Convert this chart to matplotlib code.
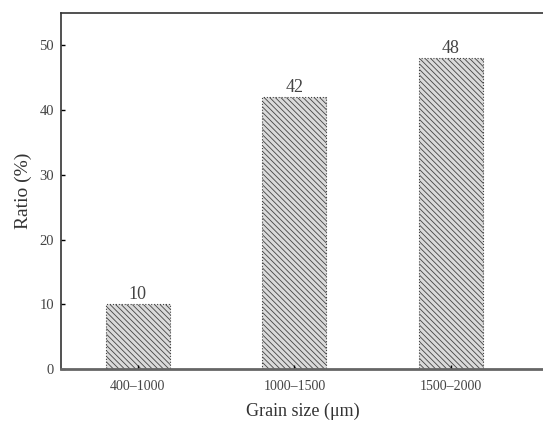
import matplotlib
matplotlib.use("Agg")
import matplotlib.pyplot as plt

categories = ["400\u20131000", "1000\u20131500", "1500\u20132000"]
values = [10, 42, 48]
yticks = [0, 10, 20, 30, 40, 50]

plt.rcParams['font.family'] = ['Liberation Serif', 'DejaVu Serif']
plt.rcParams['hatch.color'] = '#808080'
plt.rcParams['hatch.linewidth'] = 0.6

fig = plt.figure(figsize=(5.43, 4.21), dpi=100)
ax = fig.add_axes([61/543, 1 - 369/421, (545 - 61)/543, (369 - 13)/421])

x = list(range(len(categories)))
bars = ax.bar(x, values, width=0.41, facecolor='#dadada', edgecolor='#444444',
              hatch='\\' * 6, linewidth=0.8, linestyle=':')
for xi, v in zip(x, values):
    ax.text(xi, v + 0.2, f"{v}", ha='center', va='bottom', fontsize=13, color='#444444')

ax.set_xlim(-0.49, 2.6)
ax.set_ylim(0, 55)
ax.set_xticks(x)
ax.set_xticklabels(categories, fontsize=10, color='#444444')
ax.set_yticks(yticks)
ax.set_yticklabels([str(t) for t in yticks], fontsize=10.5, color='#444444')
ax.tick_params(axis='both', direction='in', length=3, width=1)
ax.tick_params(axis='x', pad=8)
ax.tick_params(axis='y', pad=5)
for s in ax.spines.values():
    s.set_linewidth(1.2)
    s.set_color('#333333')
ax.spines['bottom'].set_linewidth(2.0)
ax.spines['bottom'].set_color('#666666')

ax.set_xlabel("Grain size (\u03bcm)", fontsize=13, color='#333333', labelpad=7)
ax.set_ylabel("Ratio (%)", fontsize=14, color='#333333', labelpad=5)

fig.savefig("out.png", dpi=100)
